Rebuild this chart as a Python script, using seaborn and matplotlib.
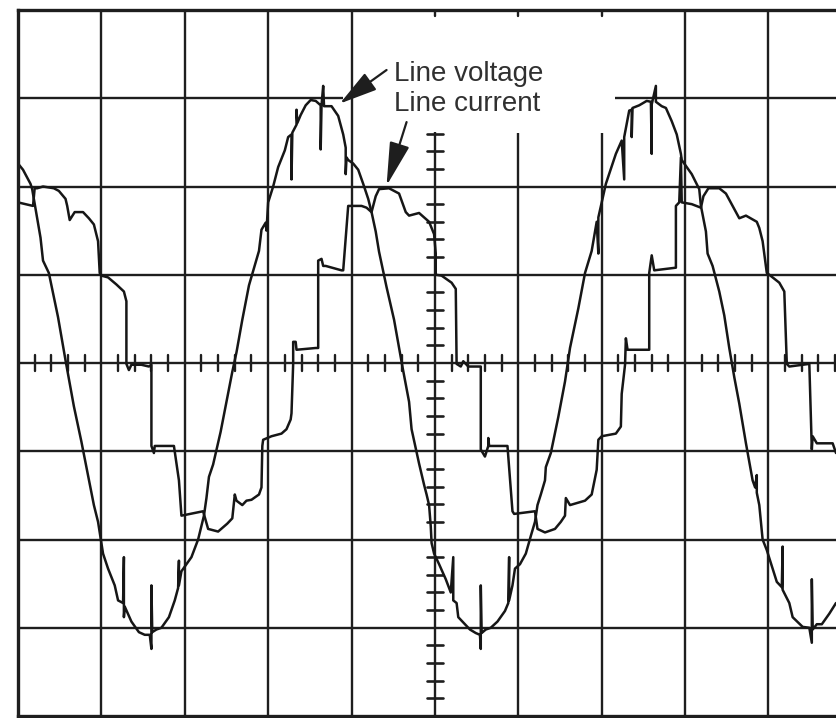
import numpy as np
import pandas as pd
import matplotlib
matplotlib.use("Agg")
import matplotlib.pyplot as plt
import seaborn as sns

# ---- data (time and amplitude in screen divisions) ----
volt_t = [-5.00, -4.94, -4.85, -4.83, -4.79, -4.73, -4.70, -4.63, -4.52, -4.43,
          -4.33, -4.24, -4.12, -4.09, -4.04, -4.00, -3.98, -3.92, -3.84, -3.80,
          -3.74, -3.73, -3.73, -3.72, -3.64, -3.55, -3.48, -3.42, -3.40, -3.40,
          -3.39, -3.34, -3.28, -3.19, -3.12, -3.08, -3.07, -3.07, -3.04, -2.92,
          -2.84, -2.77, -2.74, -2.71, -2.66, -2.57, -2.51, -2.43, -2.38, -2.31,
          -2.23, -2.11, -2.08, -2.03, -2.02, -2.00, -1.94, -1.88, -1.80, -1.76,
          -1.72, -1.72, -1.71, -1.66, -1.66, -1.65, -1.61, -1.55, -1.49, -1.43,
          -1.37, -1.37, -1.36, -1.34, -1.33, -1.24, -1.16, -1.10, -1.07, -1.07,
          -1.06, -1.04, -0.98, -0.92, -0.86, -0.80, -0.76, -0.71, -0.67, -0.58,
          -0.49, -0.43, -0.39, -0.31, -0.28, -0.19, -0.13, -0.10, -0.07, -0.05,
          -0.04, -0.01, 0.05, 0.13, 0.19, 0.22, 0.22, 0.26, 0.28, 0.36,
          0.42, 0.49, 0.54, 0.55, 0.55, 0.56, 0.61, 0.67, 0.75, 0.84,
          0.88, 0.89, 0.89, 0.93, 0.96, 1.02, 1.09, 1.15, 1.20, 1.23,
          1.27, 1.32, 1.33, 1.39, 1.48, 1.56, 1.62, 1.72, 1.80, 1.88,
          1.94, 1.96, 1.96, 2.05, 2.17, 2.24, 2.27, 2.27, 2.33, 2.36,
          2.36, 2.37, 2.45, 2.54, 2.59, 2.60, 2.60, 2.65, 2.65, 2.72,
          2.77, 2.84, 2.90, 2.95, 2.96, 3.08, 3.17, 3.19, 3.25, 3.27,
          3.33, 3.41, 3.47, 3.53, 3.59, 3.65, 3.73, 3.81, 3.84, 3.86,
          3.86, 3.89, 3.93, 3.98, 4.10, 4.16, 4.17, 4.17, 4.25, 4.29,
          4.41, 4.49, 4.52, 4.52, 4.53, 4.58, 4.64, 4.73, 4.81]
volt_v = [2.26, 2.19, 2.03, 1.97, 1.75, 1.42, 1.16, 1.02, 0.52, 0.03,
          -0.49, -0.89, -1.47, -1.61, -1.80, -2.04, -2.16, -2.33, -2.52, -2.69,
          -2.72, -2.20, -2.88, -2.76, -2.93, -3.05, -3.08, -3.08, -3.24, -2.52,
          -3.05, -3.02, -3.00, -2.88, -2.69, -2.55, -2.24, -2.52, -2.36, -2.20,
          -2.00, -1.73, -1.53, -1.29, -1.15, -0.78, -0.49, -0.10, 0.12, 0.49,
          0.88, 1.27, 1.51, 1.59, 1.50, 1.82, 2.00, 2.22, 2.41, 2.56,
          2.59, 2.08, 2.61, 2.70, 2.87, 2.72, 2.81, 2.92, 2.98, 2.97,
          2.92, 2.42, 2.92, 3.14, 2.91, 2.91, 2.80, 2.59, 2.44, 2.14,
          2.33, 2.30, 2.26, 2.19, 2.03, 1.86, 1.71, 1.49, 1.26, 0.86,
          0.49, 0.17, -0.04, -0.44, -0.75, -1.14, -1.38, -1.49, -1.61, -1.85,
          -2.04, -2.16, -2.28, -2.45, -2.60, -2.20, -2.69, -2.72, -2.88, -2.96,
          -3.02, -3.06, -3.08, -3.24, -2.52, -3.06, -3.02, -3.00, -2.93, -2.81,
          -2.72, -2.20, -2.69, -2.52, -2.33, -2.28, -2.16, -1.96, -1.80, -1.61,
          -1.49, -1.33, -1.18, -1.02, -0.61, -0.21, 0.17, 0.62, 1.02, 1.27,
          1.60, 1.24, 1.65, 2.03, 2.37, 2.52, 2.08, 2.56, 2.86, 2.87,
          2.56, 2.89, 2.92, 2.97, 2.96, 2.37, 2.93, 3.14, 2.96, 2.91,
          2.89, 2.74, 2.59, 2.37, 2.30, 2.14, 1.97, 1.78, 1.49, 1.24,
          1.10, 0.81, 0.54, 0.17, -0.16, -0.46, -0.91, -1.33, -1.41, -1.27,
          -1.47, -1.61, -2.00, -2.12, -2.48, -2.54, -2.08, -2.57, -2.72, -2.88,
          -2.99, -3.00, -3.17, -2.45, -3.02, -2.96, -2.96, -2.84, -2.72]

curr_t = [-5.00, -4.82, -4.80, -4.77, -4.70, -4.57, -4.51, -4.43, -4.41, -4.38,
          -4.32, -4.22, -4.15, -4.09, -4.04, -4.02, -4.00, -3.92, -3.82, -3.73,
          -3.70, -3.70, -3.67, -3.64, -3.52, -3.43, -3.40, -3.40, -3.37, -3.36,
          -3.13, -3.07, -3.04, -2.78, -2.72, -2.60, -2.49, -2.43, -2.40, -2.38,
          -2.31, -2.26, -2.20, -2.11, -2.08, -2.07, -2.06, -1.96, -1.84, -1.78,
          -1.73, -1.72, -1.70, -1.70, -1.67, -1.66, -1.43, -1.40, -1.40, -1.36,
          -1.34, -1.31, -1.12, -1.10, -1.04, -1.01, -0.88, -0.82, -0.76, -0.71,
          -0.67, -0.55, -0.43, -0.35, -0.31, -0.19, -0.07, -0.01, 0.01, 0.01,
          0.08, 0.20, 0.25, 0.26, 0.31, 0.34, 0.40, 0.55, 0.55, 0.60,
          0.64, 0.64, 0.65, 0.87, 0.93, 0.95, 1.20, 1.23, 1.32, 1.44,
          1.51, 1.56, 1.57, 1.62, 1.80, 1.88, 1.94, 1.96, 2.00, 2.17,
          2.23, 2.24, 2.28, 2.29, 2.31, 2.57, 2.57, 2.60, 2.63, 2.89,
          2.89, 2.93, 2.95, 2.96, 3.08, 3.19, 3.22, 3.28, 3.41, 3.49,
          3.61, 3.65, 3.73, 3.86, 3.89, 3.93, 3.98, 4.01, 4.13, 4.19,
          4.22, 4.25, 4.49, 4.52, 4.53, 4.58, 4.77, 4.81]
curr_a = [1.82, 1.78, 1.98, 1.98, 2.00, 1.98, 1.95, 1.86, 1.78, 1.62,
          1.71, 1.71, 1.64, 1.57, 1.38, 1.02, 0.99, 0.97, 0.89, 0.81,
          0.70, -0.01, -0.08, -0.02, -0.02, -0.04, -0.02, -0.94, -1.02, -0.94,
          -0.94, -1.33, -1.73, -1.68, -1.88, -1.91, -1.82, -1.76, -1.49, -1.56,
          -1.61, -1.56, -1.55, -1.49, -1.41, -0.94, -0.87, -0.83, -0.80, -0.75,
          -0.64, -0.57, -0.01, 0.24, 0.24, 0.15, 0.17, 0.17, 1.16, 1.18,
          1.10, 1.10, 1.05, 1.05, 1.78, 1.78, 1.78, 1.76, 1.71, 1.89,
          1.97, 1.98, 1.92, 1.71, 1.67, 1.70, 1.60, 1.46, 1.24, 1.00,
          0.99, 0.91, 0.84, -0.01, -0.04, 0.02, -0.04, -0.04, -0.98, -1.06,
          -0.94, -0.85, -0.94, -0.94, -1.68, -1.71, -1.68, -1.88, -1.92, -1.88,
          -1.80, -1.73, -1.53, -1.61, -1.56, -1.49, -1.21, -0.87, -0.83, -0.80,
          -0.72, -0.35, -0.02, 0.28, 0.15, 0.15, 1.02, 1.22, 1.05, 1.08,
          1.78, 1.82, 2.33, 1.82, 1.80, 1.76, 1.89, 1.98, 1.98, 1.92,
          1.71, 1.64, 1.67, 1.60, 1.53, 1.38, 1.02, 1.00, 0.91, 0.81,
          -0.01, -0.04, -0.01, -0.98, -0.83, -0.91, -0.91, -1.02]

labels = ["Line voltage", "Line current"]

# ---- figure ----
sns.set_theme(style="white")
plt.rcParams['font.family'] = ['Liberation Sans', 'DejaVu Sans']

fig = plt.figure(figsize=(8.36, 7.18), dpi=100)
fig.patch.set_facecolor("white")
ax = fig.add_axes([18 / 836, 2 / 718, 818 / 836, 706 / 718])
ax.set_facecolor("white")
XR = 4.81
ax.set_xlim(-5, XR)
ax.set_ylim(-4, 4)

ink = "#1e1e1e"
glw = 1.7

# graticule
for x in [-4, -3, -2, -1, 3, 4]:
    ax.plot([x, x], [-4, 4], color=ink, lw=glw, solid_capstyle="butt")
for x in [1, 2]:
    ax.plot([x, x], [-4, 2.61], color=ink, lw=glw, solid_capstyle="butt")
ax.plot([0, 0], [-4, 2.62], color=ink, lw=glw, solid_capstyle="butt")
for y in [2, 1, 0, -1, -2, -3]:
    ax.plot([-5, XR], [y, y], color=ink, lw=glw, solid_capstyle="butt")
ax.plot([-5, -1.1], [3, 3], color=ink, lw=glw, solid_capstyle="butt")
ax.plot([2.16, XR], [3, 3], color=ink, lw=glw, solid_capstyle="butt")
for x in [0, 1, 2]:
    ax.plot([x, x], [4, 3.93], color=ink, lw=glw)

# minor ticks on the centre axes
for k in range(-24, 25):
    x = k * 0.2
    if k % 5 != 0 and x < XR:
        ax.plot([x, x], [-0.09, 0.09], color=ink, lw=1.7)
for k in range(-19, 14):
    y = k * 0.2
    if k % 5 != 0:
        ax.plot([-0.1, 0.1], [y, y], color=ink, lw=1.9)

# traces
dfv = pd.DataFrame({"t": volt_t, "v": volt_v})
dfi = pd.DataFrame({"t": curr_t, "v": curr_a})
sns.lineplot(data=dfv, x="t", y="v", sort=False, estimator=None,
             color="#161616", lw=1.8, ax=ax)
sns.lineplot(data=dfi, x="t", y="v", sort=False, estimator=None,
             color="#161616", lw=1.8, ax=ax)

# border
for s in ["left", "top", "bottom"]:
    ax.spines[s].set_visible(True)
    ax.spines[s].set_color(ink)
    ax.spines[s].set_linewidth(2.4)
ax.spines["right"].set_visible(False)
ax.set_xticks([])
ax.set_yticks([])
ax.set_xlabel("")
ax.set_ylabel("")

# labels and arrows
tc = "#303030"
ax.text(-0.49, 3.20, labels[0], fontsize=20, color=tc, va="baseline", ha="left")
ax.text(-0.49, 2.86, labels[1], fontsize=20, color=tc, va="baseline", ha="left")
ax.annotate("", xy=(-1.14, 2.94), xytext=(-0.58, 3.32),
            arrowprops=dict(arrowstyle="-|>,head_length=1.3,head_width=0.35",
                            mutation_scale=18, lw=1.6, color=ink,
                            shrinkA=0, shrinkB=0))
ax.annotate("", xy=(-0.58, 2.01), xytext=(-0.34, 2.73),
            arrowprops=dict(arrowstyle="-|>,head_length=1.5,head_width=0.35",
                            mutation_scale=18, lw=1.6, color=ink,
                            shrinkA=0, shrinkB=0))

fig.savefig("out.png", dpi=100, facecolor="white")
